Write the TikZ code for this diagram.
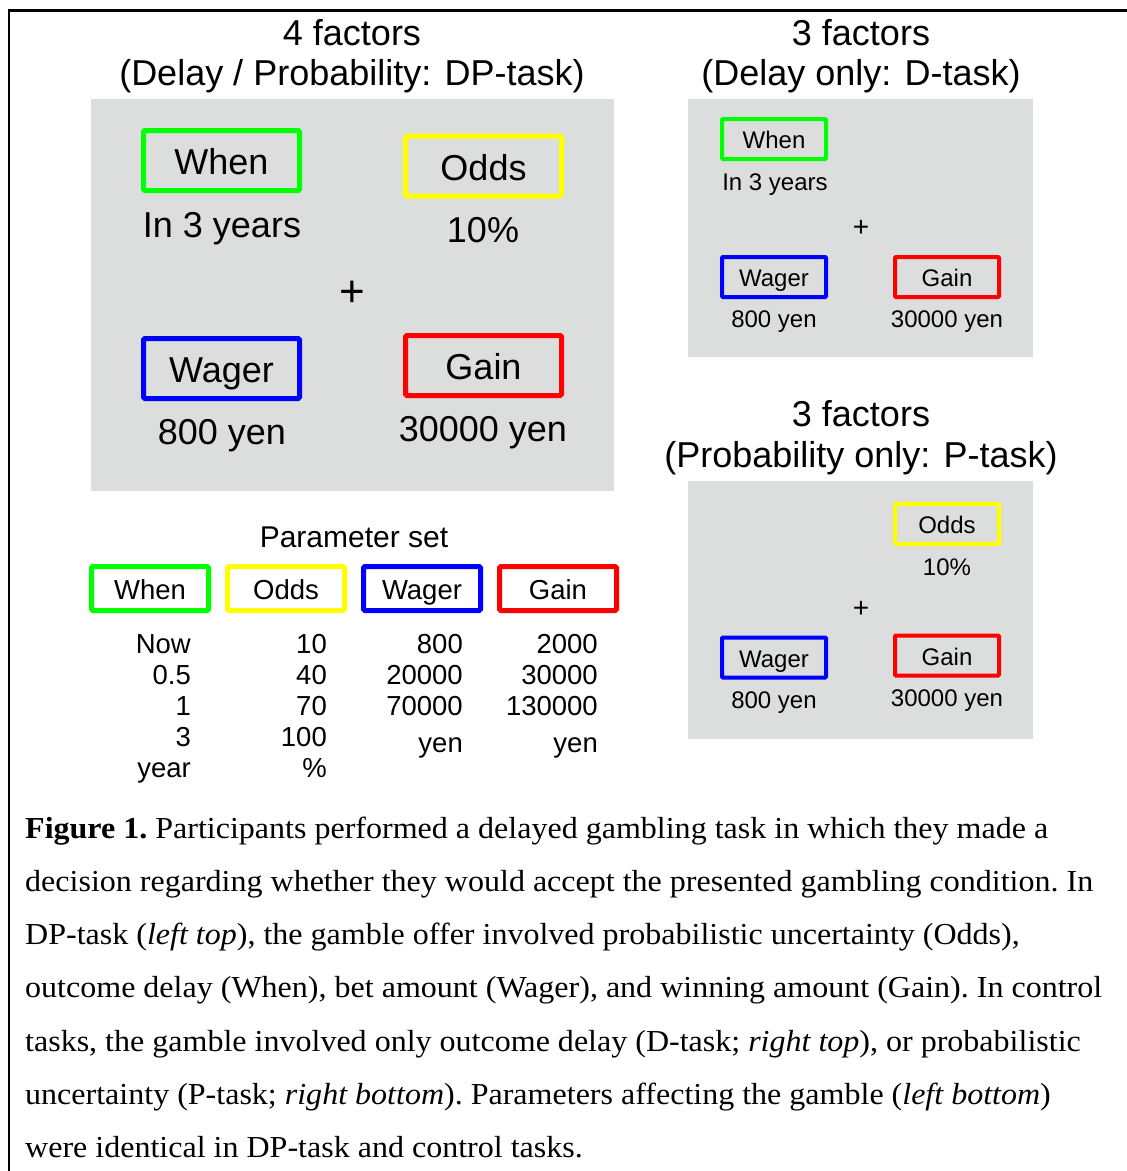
\documentclass[tikz,border=0pt]{standalone}
\usepackage{fontspec}
\setmainfont{Liberation Sans}
\newfontfamily\capfont[FakeStretch=1.05]{Liberation Serif}
\definecolor{panelgray}{RGB}{220,221,221}
\definecolor{cgreen}{RGB}{0,255,0}
\definecolor{cyellow}{RGB}{255,255,0}
\definecolor{cblue}{RGB}{0,0,255}
\definecolor{cred}{RGB}{255,0,0}
\tikzset{
  panel/.style={fill=panelgray, draw=none, inner sep=0pt, anchor=north west},
  bigbox/.style={draw, line width=5pt, rounded corners=1.5pt, minimum width=156pt, minimum height=60pt, inner sep=0pt, text height=28.8pt, text depth=0pt, font=\fontsize{36}{40}\selectfont},
  smallbox/.style={draw, line width=4pt, rounded corners=1pt, minimum width=104pt, minimum height=40pt, inner sep=0pt, text height=19.6pt, text depth=0pt, font=\fontsize{24}{28}\selectfont},
  parbox/.style={draw, line width=5pt, rounded corners=1.5pt, minimum width=117pt, minimum height=44pt, inner sep=0pt, text height=22.6pt, text depth=0pt, font=\fontsize{27.5}{32}\selectfont},
  bigtxt/.style={inner sep=0pt, font=\fontsize{36}{40}\selectfont},
  bigval/.style={inner sep=0pt, anchor=base, font=\fontsize{36}{40}\selectfont},
  smallval/.style={inner sep=0pt, anchor=base, font=\fontsize{24}{28}\selectfont},
  tabtxt/.style={inner sep=0pt, anchor=base east, font=\fontsize{27.5}{32}\selectfont},
  captxt/.style={inner sep=0pt, anchor=base west, font=\capfont\frenchspacing\fontsize{30.5}{34}\selectfont},
}
\begin{document}
\begin{tikzpicture}[x=1pt, y=-1pt]
\useasboundingbox (0,0) rectangle (1127,1171);
\fill[white] (0,0) rectangle (1127,1171);
% frame
\coordinate (fbl) at (9,1171);
\coordinate (ftl) at (9,10.5);
\coordinate (ftr) at (1127,10.5);
\draw[line width=2.5pt] (fbl) -- (ftl) -- (ftr);

% ---------- Left top: DP task ----------
\node[bigtxt] (t1a) at (352,33) {4 factors};
\node[bigtxt] (t1b) at (352,76) {(Delay / Probability: DP-task)};
\node[panel, minimum width=523pt, minimum height=392pt] (p1) at (91,99) {};
\node[bigbox, draw=cgreen] (w1) at (221.5,160.5) {When};
\node[bigval] (w1v) at (222,237) {In 3 years};
\node[bigbox, draw=cyellow] (o1) at (483.5,166) {Odds};
\node[bigval] (o1v) at (483,242) {10\%};
\node[inner sep=0pt, font=\fontsize{44}{48}\selectfont] (plus1) at (352,294) {+};
\node[bigbox, draw=cblue] (g1) at (221.5,368.5) {Wager};
\node[bigval] (g1v) at (222,444) {800 yen};
\node[bigbox, draw=cred] (n1) at (483.5,365.5) {Gain};
\node[bigval] (n1v) at (483,441.5) {30000 yen};

% ---------- Right top: D task ----------
\node[bigtxt] (t2a) at (861,33) {3 factors};
\node[bigtxt] (t2b) at (861,76) {(Delay only: D-task)};
\node[panel, minimum width=345pt, minimum height=258pt] (p2) at (688,99) {};
\node[smallbox, draw=cgreen] (w2) at (774,139) {When};
\node[smallval] (w2v) at (775,190) {In 3 years};
\node[inner sep=0pt, font=\fontsize{28}{32}\selectfont] (plus2) at (861,228) {+};
\node[smallbox, draw=cblue] (g2) at (774,277) {Wager};
\node[smallval] (g2v) at (774,327) {800 yen};
\node[smallbox, draw=cred] (n2) at (947,277) {Gain};
\node[smallval] (n2v) at (947,327) {30000 yen};

% ---------- Right bottom: P task ----------
\node[bigtxt] (t3a) at (861,414) {3 factors};
\node[bigtxt] (t3b) at (861,458) {(Probability only: P-task)};
\node[panel, minimum width=345pt, minimum height=258pt] (p3) at (688,481) {};
\node[smallbox, draw=cyellow] (o3) at (947,524) {Odds};
\node[smallval] (o3v) at (947,575) {10\%};
\node[inner sep=0pt, font=\fontsize{28}{32}\selectfont] (plus3) at (861,609) {+};
\node[smallbox, draw=cblue] (g3) at (774,657.5) {Wager};
\node[smallval] (g3v) at (774,708) {800 yen};
\node[smallbox, draw=cred] (n3) at (947,655.5) {Gain};
\node[smallval] (n3v) at (947,706) {30000 yen};

% ---------- Left bottom: parameter set ----------
\node[inner sep=0pt, font=\fontsize{30}{34}\selectfont] (ps) at (354,537) {Parameter set};
\node[parbox, draw=cgreen] (pw) at (150,588.5) {When};
\node[parbox, draw=cyellow] (po) at (286,588.5) {Odds};
\node[parbox, draw=cblue] (pg) at (422,588.5) {Wager};
\node[parbox, draw=cred] (pn) at (558,588.5) {Gain};

\node[tabtxt] (a1) at (191,653) {Now};
\node[tabtxt] (a2) at (191,684) {0.5};
\node[tabtxt] (a3) at (191,715) {1};
\node[tabtxt] (a4) at (191,746) {3};
\node[tabtxt] (a5) at (191,777) {year};
\node[tabtxt] (b1) at (327,653) {10};
\node[tabtxt] (b2) at (327,684) {40};
\node[tabtxt] (b3) at (327,715) {70};
\node[tabtxt] (b4) at (327,746) {100};
\node[tabtxt] (b5) at (327,777) {\%};
\node[tabtxt] (c1) at (463,653) {800};
\node[tabtxt] (c2) at (463,684) {20000};
\node[tabtxt] (c3) at (463,715) {70000};
\node[tabtxt] (c4) at (463,752) {yen};
\node[tabtxt] (d1) at (598,653) {2000};
\node[tabtxt] (d2) at (598,684) {30000};
\node[tabtxt] (d3) at (598,715) {130000};
\node[tabtxt] (d4) at (598,752) {yen};

% ---------- Caption ----------
\node[captxt] (cap1) at (25,838) {\textbf{Figure 1.} Participants performed a delayed gambling task in which they made a};
\node[captxt] (cap2) at (25,891.3) {decision regarding whether they would accept the presented gambling condition. In};
\node[captxt] (cap3) at (25,944.6) {DP-task (\textit{left top}), the gamble offer involved probabilistic uncertainty (Odds),};
\node[captxt] (cap4) at (25,997.9) {outcome delay (When), bet amount (Wager), and winning amount (Gain). In control};
\node[captxt] (cap5) at (25,1051.2) {tasks, the gamble involved only outcome delay (D-task; \textit{right top}), or probabilistic};
\node[captxt] (cap6) at (25,1104.5) {uncertainty (P-task; \textit{right bottom}). Parameters affecting the gamble (\textit{left bottom})};
\node[captxt] (cap7) at (25,1157.8) {were identical in DP-task and control tasks.};
\end{tikzpicture}
\end{document}
